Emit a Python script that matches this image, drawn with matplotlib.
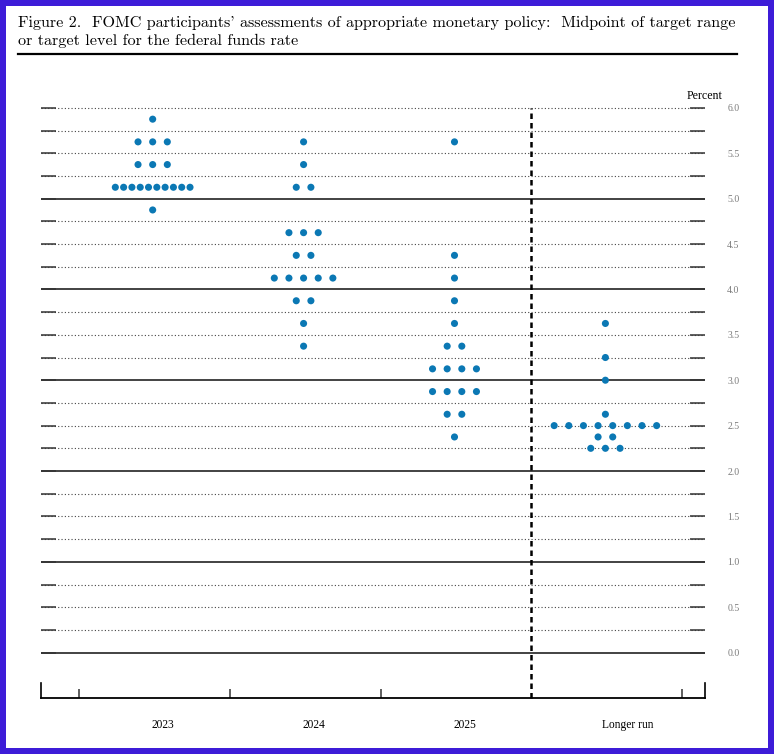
import matplotlib.pyplot as plt
import numpy as np

# dot plot data: (midpoint, number of participants)
cols = ['2023', '2024', '2025', 'Longer run']
dots_2023 = [(5.875, 1), (5.625, 3), (5.375, 3), (5.125, 10), (4.875, 1)]
dots_2024 = [(5.625, 1), (5.375, 1), (5.125, 2), (4.625, 3), (4.375, 2),
             (4.125, 5), (3.875, 2), (3.625, 1), (3.375, 1)]
dots_2025 = [(5.625, 1), (4.375, 1), (4.125, 1), (3.875, 1), (3.625, 1),
             (3.375, 2), (3.125, 4), (2.875, 4), (2.625, 2), (2.375, 1)]
dots_lr = [(3.625, 1), (3.25, 1), (3.0, 1), (2.625, 1), (2.5, 8),
           (2.375, 2), (2.25, 3)]
all_dots = [dots_2023, dots_2024, dots_2025, dots_lr]
ytick_vals = np.arange(0, 6.01, 0.5)

blue = '#0b78b4'
serif = ['Liberation Serif', 'DejaVu Serif']
cm = ['cmr10', 'DejaVu Serif']

fig = plt.figure(figsize=(7.74, 7.54), dpi=100)
fig.patch.set_edgecolor('#3d1cd8')
fig.patch.set_linewidth(8.6)

# title
fig.text(18/774, 1-27.5/754,
         "Figure 2.  FOMC participants' assessments of appropriate monetary policy:  Midpoint of target range",
         family=cm, fontsize=11.6, va='baseline')
fig.text(18/774, 1-45/754, "or target level for the federal funds rate",
         family=cm, fontsize=11.6, va='baseline')
fig.add_artist(plt.Line2D([18/774, 737/774], [1-54/754, 1-54/754],
                          color='black', lw=1.6))

ax = fig.add_axes([41/774, 56/754, (705-41)/774, (698-106)/754])
ax.set_xlim(-0.25, 4.15)
ax.set_ylim(-0.5, 6.02)

# horizontal lines every quarter point
for v in np.arange(0, 6.01, 0.25):
    if v % 1 == 0 and v < 6:
        ax.axhline(v, color='#222222', lw=1.2, zorder=1)
    else:
        ax.axhline(v, color='#444444', lw=0.8, ls=(0, (1, 2)), zorder=1)

# dots
for i, col in enumerate(all_dots):
    cx = i + 0.49
    for val, n in col:
        step = 0.055 if n >= 10 else 0.097
        xs = cx + (np.arange(n) - (n-1)/2) * step
        ax.scatter(xs, [val]*n, s=26, color=blue, edgecolors='none', zorder=3)

ax.plot([3, 3], [-0.5, 6.0], color='black', lw=1.8, ls=(0, (2.2, 1.6)),
        clip_on=False, zorder=4)

ax.spines['top'].set_visible(False)
for s in ['left', 'right']:
    ax.spines[s].set_bounds(-0.5, -0.33)
    ax.spines[s].set_linewidth(1.2)
ax.spines['bottom'].set_linewidth(1.3)

ax.set_yticks(ytick_vals)
ax.set_yticklabels([f'{v:.1f}' for v in ytick_vals])
ax.set_yticks(np.arange(0.25, 6, 0.5), minor=True)
ax.tick_params(axis='y', which='both', direction='in', left=True, right=True,
               labelleft=False, labelright=True, length=11, width=1.1,
               color='#333333', pad=16, labelsize=7, labelcolor='#7a7a7a')
for t in ax.get_yticklabels():
    t.set_family(serif)

ax.set_xticks([0, 1, 2, 4])
ax.set_xticklabels([])
ax.set_xticks([0.56, 1.56, 2.56, 3.64], minor=True)
ax.set_xticklabels(cols, minor=True)
ax.tick_params(axis='x', which='major', direction='in', length=6.5, width=1.2,
               color='#444444')
ax.tick_params(axis='x', which='minor', length=0, pad=15, labelsize=8.3)
for t in ax.get_xticklabels(minor=True):
    t.set_family(serif)

ax.text(4.15, 6.06, 'Percent', ha='center', va='bottom', family=serif,
        fontsize=8.6)

fig.savefig('out.png', dpi=100)
